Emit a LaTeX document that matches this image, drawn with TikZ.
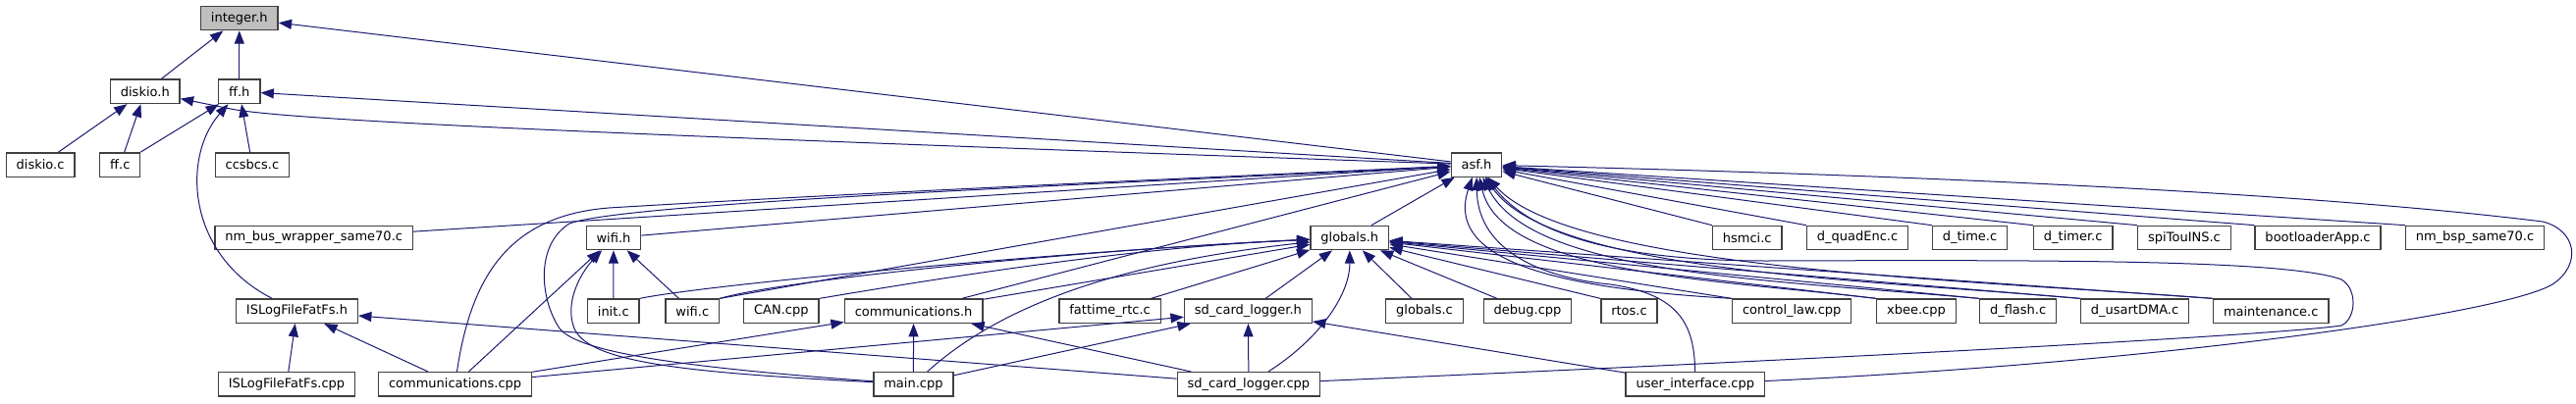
\documentclass[tikz,border=0pt]{standalone}
\usepackage{fontspec}
\setmainfont{DejaVu Sans}
\usetikzlibrary{arrows.meta}
\definecolor{edgeblue}{HTML}{191970}

\begin{document}
\begin{tikzpicture}[x=0.75pt, y=-0.75pt,
  file/.style={rectangle, draw=black!75, line width=1pt, fill=white, minimum height=18.25pt, inner xsep=7.8pt, inner ysep=0pt, font=\fontsize{9.75}{11.7}\selectfont},
  inc/.style={draw=edgeblue, line width=0.75pt, -{Stealth[length=10pt, width=7.5pt, inset=0pt]}}]
\useasboundingbox (0, 0) rectangle (2624, 411);

\node[file, fill=black!25] (integer) at (243.8, 18.5) {integer.h};

\node[file] (diskioh) at (147.8, 93.3) {diskio.h};
\node[file] (ffh) at (243.8, 93.3) {ff.h};

\node[file] (diskioc) at (41.1, 168) {diskio.c};
\node[file] (ffc) at (122.3, 168) {ff.c};
\node[file] (ccsbcs) at (256.9, 168) {ccsbcs.c};
\node[file] (asf) at (1504, 168) {asf.h};

\node[file] (nmbus) at (319.7, 242.5) {nm\_bus\_wrapper\_same70.c};
\node[file] (wifih) at (625, 242.5) {wifi.h};
\node[file] (globalsh) at (1374.8, 242.5) {globals.h};
\node[file] (hsmci) at (1779.7, 242.5) {hsmci.c};
\node[file] (quadenc) at (1892, 242.5) {d\_quadEnc.c};
\node[file] (dtime) at (2006.5, 242.5) {d\_time.c};
\node[file] (dtimer) at (2111.7, 242.5) {d\_timer.c};
\node[file] (spitouins) at (2225, 242.5) {spiTouINS.c};
\node[file] (bootloader) at (2361, 242.5) {bootloaderApp.c};
\node[file] (nmbsp) at (2521, 242.5) {nm\_bsp\_same70.c};

\node[file] (islogh) at (302.5, 317.2) {ISLogFileFatFs.h};
\node[file] (initc) at (624.8, 317.2) {init.c};
\node[file] (wific) at (705.3, 317.2) {wifi.c};
\node[file] (can) at (795.8, 317.2) {CAN.cpp};
\node[file] (commh) at (930.6, 317.2) {communications.h};
\node[file] (fattime) at (1130.6, 317.2) {fattime\_rtc.c};
\node[file] (sdh) at (1271.4, 317.2) {sd\_card\_logger.h};
\node[file] (globalsc) at (1451, 317.2) {globals.c};
\node[file] (debug) at (1556, 317.2) {debug.cpp};
\node[file] (rtos) at (1659.5, 317.2) {rtos.c};
\node[file] (ctrllaw) at (1825.2, 317.2) {control\_law.cpp};
\node[file] (xbee) at (1952, 317.2) {xbee.cpp};
\node[file] (dflash) at (2055.6, 317.2) {d\_flash.c};
\node[file] (usartdma) at (2174.5, 317.2) {d\_usartDMA.c};
\node[file] (maint) at (2313.2, 317.2) {maintenance.c};

\node[file] (islogcpp) at (292, 391.8) {ISLogFileFatFs.cpp};
\node[file] (commcpp) at (463.6, 391.8) {communications.cpp};
\node[file] (maincpp) at (930.4, 391.8) {main.cpp};
\node[file] (sdcpp) at (1271.9, 391.8) {sd\_card\_logger.cpp};
\node[file] (uicpp) at (1726.8, 391.8) {user\_interface.cpp};

\draw[inc] (diskioh) -- (integer);
\draw[inc] (ffh) -- (integer);
\draw[inc] (asf) -- (integer);
\draw[inc] (diskioc) -- (diskioh);
\draw[inc] (ffc) -- (diskioh);
\draw[inc] (ffc) -- (ffh);
\draw[inc] (ccsbcs) -- (ffh);
\draw[inc] (asf) -- (ffh);
\draw[inc] (asf) .. controls (700, 140) and (300, 124) .. (235, 111) -- (diskioh);
\draw[inc] (islogh) .. controls (190, 260) and (185, 160) .. (ffh);

\draw[inc] (islogcpp) -- (islogh);
\draw[inc] (commcpp) -- (islogh);
\draw[inc] (sdcpp) -- (islogh);

\draw[inc] (nmbus) -- (asf);
\draw[inc] (wifih) -- (asf);
\draw[inc] (initc) -- (wifih);
\draw[inc] (wific) -- (wifih);
\draw[inc] (commcpp) -- (wifih);
\draw[inc] (maincpp) .. controls (700, 380) and (600, 370) .. (585, 335) .. controls (575, 310) and (590, 280) .. (wifih);
\draw[inc] (commcpp) .. controls (480, 280) and (520, 220) .. (620, 212) .. controls (900, 195) and (1300, 178) .. (asf);
\draw[inc] (maincpp) .. controls (700, 375) and (590, 360) .. (570, 335) .. controls (550, 305) and (545, 250) .. (580, 228) .. controls (640, 205) and (1200, 185) .. (asf);
\draw[inc] (wific.north east) -- (asf);
\draw[inc] (commh) -- (asf);

\draw[inc] (globalsh) -- (asf);
\draw[inc] (initc.north east) .. controls (720, 290) and (1100, 255) .. (globalsh);
\draw[inc] (wific.north east) .. controls (800, 285) and (1100, 255) .. (globalsh);
\draw[inc] (can.north east) .. controls (950, 285) and (1150, 252) .. (globalsh);
\draw[inc] (commh) -- (globalsh);
\draw[inc] (fattime) -- (globalsh);
\draw[inc] (maincpp) .. controls (1010, 320) and (1120, 270) .. (globalsh);
\draw[inc] (sdh) -- (globalsh);
\draw[inc] (sdcpp) .. controls (1345, 345) and (1375, 300) .. (globalsh);
\draw[inc] (globalsc) -- (globalsh);
\draw[inc] (debug) -- (globalsh);
\draw[inc] (rtos.north west) -- (globalsh);
\draw[inc] (ctrllaw.north west) -- (globalsh);
\draw[inc] (xbee.north west) -- (globalsh);
\draw[inc] (dflash.north west) -- (globalsh);
\draw[inc] (usartdma.north west) -- (globalsh);
\draw[inc] (maint.north west) -- (globalsh);

\draw[inc] (commcpp) -- (commh);
\draw[inc] (maincpp) -- (commh);
\draw[inc] (sdcpp) -- (commh);
\draw[inc] (commcpp) -- (sdh);
\draw[inc] (maincpp) -- (sdh);
\draw[inc] (sdcpp) -- (sdh);
\draw[inc] (uicpp) -- (sdh);

\draw[inc] (hsmci.north west) -- (asf);
\draw[inc] (quadenc.north west) -- (asf);
\draw[inc] (dtime.north west) -- (asf);
\draw[inc] (dtimer.north west) -- (asf);
\draw[inc] (spitouins.north west) -- (asf);
\draw[inc] (bootloader.north west) -- (asf);
\draw[inc] (nmbsp.north west) -- (asf);
\draw[inc] (ctrllaw.north west) .. controls (1600, 295) and (1470, 270) .. (asf);
\draw[inc] (xbee.north west) .. controls (1750, 285) and (1530, 280) .. (asf);
\draw[inc] (dflash.north west) .. controls (1800, 285) and (1560, 280) .. (asf);
\draw[inc] (usartdma.north west) .. controls (1900, 285) and (1580, 278) .. (asf);
\draw[inc] (maint.north west) .. controls (2000, 285) and (1600, 275) .. (asf);
\draw[inc] (uicpp) .. controls (1726, 330) and (1710, 300) .. (1640, 290) .. controls (1560, 282) and (1505, 250) .. (asf);
\draw[inc] (sdcpp) .. controls (2000, 360) and (2330, 340) .. (2385, 332) .. controls (2400, 325) and (2402, 295) .. (2385, 285) .. controls (2330, 265) and (2100, 265) .. (1800, 266) .. controls (1650, 266) and (1560, 240) .. (asf);
\draw[inc] (uicpp) .. controls (2200, 370) and (2550, 320) .. (2600, 290) .. controls (2630, 270) and (2625, 235) .. (2590, 226) .. controls (2300, 190) and (1800, 175) .. (asf);
\end{tikzpicture}
\end{document}
